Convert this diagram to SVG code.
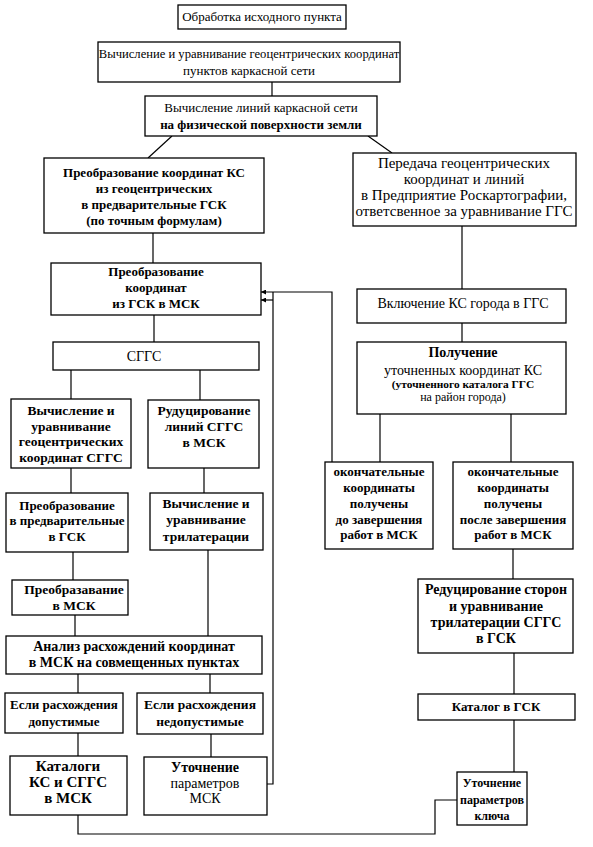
<svg xmlns="http://www.w3.org/2000/svg" width="593" height="847" viewBox="0 0 593 847">
<defs>
<style>
.box{fill:#fff;stroke:#000;stroke-width:1.3}
.t{font-family:"Liberation Serif","Times New Roman",serif;font-size:13px;text-anchor:middle;fill:#000}
.b{font-weight:bold}
.z11{font-size:11.4px}
.z12{font-size:12px}
.z125{font-size:12.6px}
.z135{font-size:13.5px}
.z14{font-size:14px}
.z15{font-size:15px}
.ln{fill:none;stroke:#000;stroke-width:1.2}
</style>
<marker id="ah" viewBox="0 0 6 6" refX="6" refY="3" markerWidth="5" markerHeight="5" orient="auto" markerUnits="userSpaceOnUse">
<path d="M0,0 L6,3 L0,6 Z" fill="#000"/>
</marker>
</defs>
<rect width="593" height="847" fill="#fff"/>

<g id="connectors">
<line class="ln" x1="272" y1="82" x2="272" y2="96"/>
<line class="ln" x1="172" y1="136" x2="148" y2="158"/>
<line class="ln" x1="368" y1="136" x2="392" y2="153"/>
<line class="ln" x1="153" y1="233" x2="153" y2="263"/>
<line class="ln" x1="154" y1="315" x2="154" y2="342"/>
<line class="ln" x1="71" y1="370" x2="71" y2="399"/>
<line class="ln" x1="200" y1="370" x2="200" y2="400"/>
<line class="ln" x1="71" y1="468" x2="71" y2="493"/>
<line class="ln" x1="204" y1="468" x2="204" y2="493"/>
<line class="ln" x1="73" y1="552" x2="73" y2="580"/>
<line class="ln" x1="75" y1="615" x2="75" y2="636"/>
<line class="ln" x1="208" y1="550" x2="208" y2="636"/>
<line class="ln" x1="78" y1="674" x2="78" y2="693"/>
<line class="ln" x1="210" y1="674" x2="210" y2="693"/>
<line class="ln" x1="78" y1="733" x2="78" y2="756"/>
<line class="ln" x1="211" y1="734" x2="211" y2="757"/>
<polyline class="ln" points="78,815 78,834 435,834 435,800 457,800"/>
<polyline class="ln" points="267,784 273,784 273,292"/>
<line class="ln" x1="273" y1="300" x2="261" y2="300" marker-end="url(#ah)"/>
<polyline class="ln" points="332,462 332,292 261,292" marker-end="url(#ah)"/>
<line class="ln" x1="462" y1="226" x2="462" y2="289"/>
<line class="ln" x1="462" y1="323" x2="462" y2="342"/>
<line class="ln" x1="380" y1="414" x2="380" y2="462"/>
<line class="ln" x1="511" y1="414" x2="511" y2="462"/>
<line class="ln" x1="513" y1="549" x2="513" y2="579"/>
<line class="ln" x1="514" y1="653" x2="514" y2="694"/>
<line class="ln" x1="514" y1="720" x2="514" y2="772"/>
</g>

<g id="n1"><rect class="box" x="178" y="5" width="168" height="24"/>
<text class="t" x="262" y="21">Обработка исходного пункта</text></g>

<g id="n2"><rect class="box" x="98" y="42" width="302" height="40"/>
<text class="t z125" x="249" y="58">Вычисление и уравнивание геоцентрических координат</text>
<text class="t" x="249" y="75">пунктов каркасной сети</text></g>

<g id="n3"><rect class="box" x="145" y="96" width="232" height="40"/>
<text class="t" x="261" y="112">Вычисление линий каркасной сети</text>
<text class="t b" x="261" y="129">на физической поверхности земли</text></g>

<g id="n4"><rect class="box" x="44" y="158" width="220" height="75"/>
<text class="t b" x="154" y="177">Преобразование координат КС</text>
<text class="t b" x="154" y="193">из геоцентрических</text>
<text class="t b" x="154" y="209">в предварительные ГСК</text>
<text class="t b" x="154" y="225">(по точным формулам)</text></g>

<g id="n5"><rect class="box" x="51" y="263" width="210" height="52"/>
<text class="t b" x="156" y="276">Преобразование</text>
<text class="t b" x="156" y="292">координат</text>
<text class="t b" x="156" y="308">из ГСК в МСК</text></g>

<g id="n6"><rect class="box" x="53" y="342" width="206" height="28"/>
<text class="t z14" x="144" y="361">СГГС</text></g>

<g id="n7"><rect class="box" x="11" y="399" width="120" height="69"/>
<text class="t b z135" x="71" y="415">Вычисление и</text>
<text class="t b z135" x="71" y="431">уравнивание</text>
<text class="t b z135" x="71" y="446">геоцентрических</text>
<text class="t b z135" x="71" y="462">координат СГГС</text></g>

<g id="n8"><rect class="box" x="148" y="400" width="111" height="68"/>
<text class="t b z135" x="204" y="415">Рудуцирование</text>
<text class="t b z135" x="204" y="431">линий СГГС</text>
<text class="t b z135" x="204" y="447">в МСК</text></g>

<g id="n9"><rect class="box" x="6" y="493" width="122" height="59"/>
<text class="t b" x="67" y="510">Преобразование</text>
<text class="t b" x="67" y="525">в предварительные</text>
<text class="t b" x="67" y="541">в ГСК</text></g>

<g id="n10"><rect class="box" x="150" y="493" width="113" height="57"/>
<text class="t b z135" x="206" y="508">Вычисление и</text>
<text class="t b z135" x="206" y="524">уравнивание</text>
<text class="t b z135" x="206" y="541">трилатерации</text></g>

<g id="n11"><rect class="box" x="12" y="580" width="116" height="35"/>
<text class="t b z135" x="74" y="594">Преобразавание</text>
<text class="t b z135" x="74" y="610">в МСК</text></g>

<g id="n12"><rect class="box" x="6" y="636" width="256" height="38"/>
<text class="t b z14" x="134" y="651">Анализ расхождений координат</text>
<text class="t b z14" x="134" y="667">в МСК на совмещенных пунктах</text></g>

<g id="n13"><rect class="box" x="5" y="693" width="118" height="40"/>
<text class="t b" x="64" y="709">Если расхождения</text>
<text class="t b" x="64" y="726">допустимые</text></g>

<g id="n14"><rect class="box" x="137" y="693" width="126" height="41"/>
<text class="t b z135" x="200" y="709">Если расхождения</text>
<text class="t b z135" x="200" y="726">недопустимые</text></g>

<g id="n15"><rect class="box" x="10" y="756" width="117" height="59"/>
<text class="t b z15" x="68" y="771">Каталоги</text>
<text class="t b z15" x="68" y="787">КС и СГГС</text>
<text class="t b z15" x="68" y="803">в МСК</text></g>

<g id="n16"><rect class="box" x="144" y="757" width="123" height="58"/>
<text class="t b z14" x="205" y="772">Уточнение</text>
<text class="t z14" x="205" y="788">параметров</text>
<text class="t z14" x="205" y="803">МСК</text></g>

<g id="n17"><rect class="box" x="353" y="153" width="223" height="73"/>
<text class="t z15" x="464" y="168">Передача геоцентрических</text>
<text class="t z15" x="464" y="184">координат и линий</text>
<text class="t z15" x="464" y="200">в Предприятие Роскартографии,</text>
<text class="t z15" x="464" y="216">ответсвенное за уравнивание ГГС</text></g>

<g id="n18"><rect class="box" x="357" y="289" width="209" height="34"/>
<text class="t z14" x="463" y="308">Включение КС города в ГГС</text></g>

<g id="n19"><rect class="box" x="357" y="342" width="209" height="72"/>
<text class="t b z14" x="463" y="357">Получение</text>
<text class="t z14" x="463" y="375">уточненных координат КС</text>
<text class="t b z11" x="463" y="388">(уточненного каталога ГГС</text>
<text class="t z12" x="463" y="401">на район города)</text></g>

<g id="n20"><rect class="box" x="325" y="462" width="108" height="87"/>
<text class="t b" x="379" y="476">окончательные</text>
<text class="t b" x="379" y="492">координаты</text>
<text class="t b" x="379" y="508">получены</text>
<text class="t b" x="379" y="524">до завершения</text>
<text class="t b" x="379" y="539">работ в МСК</text></g>

<g id="n21"><rect class="box" x="453" y="462" width="120" height="87"/>
<text class="t b" x="513" y="476">окончательные</text>
<text class="t b" x="513" y="492">координаты</text>
<text class="t b" x="513" y="508">получены</text>
<text class="t b" x="513" y="524">после завершения</text>
<text class="t b" x="513" y="539">работ в МСК</text></g>

<g id="n22"><rect class="box" x="418" y="579" width="155" height="74"/>
<text class="t b z14" x="496" y="594">Редуцирование сторон</text>
<text class="t b z14" x="496" y="611">и уравнивание</text>
<text class="t b z14" x="496" y="627">трилатерации СГГС</text>
<text class="t b z14" x="496" y="643">в ГСК</text></g>

<g id="n23"><rect class="box" x="418" y="694" width="157" height="26"/>
<text class="t b" x="496" y="711">Каталог в ГСК</text></g>

<g id="n24"><rect class="box" x="457" y="772" width="70" height="53"/>
<text class="t b z12" x="492" y="787">Уточнение</text>
<text class="t b z12" x="492" y="804">параметров</text>
<text class="t b z12" x="492" y="820">ключа</text></g>
</svg>
